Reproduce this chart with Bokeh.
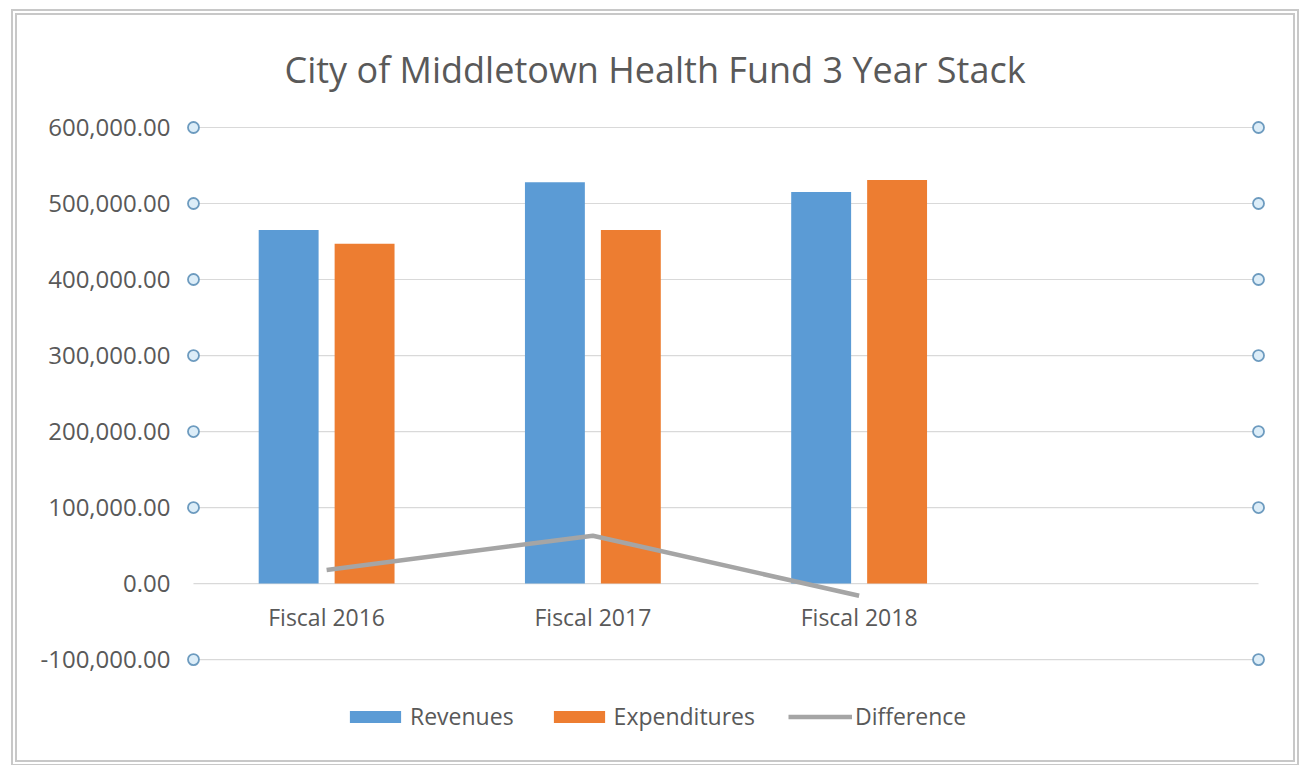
from bokeh.plotting import figure
from bokeh.models import FixedTicker, NumeralTickFormatter, Legend, LegendItem, Range1d
from bokeh.core.properties import value
from bokeh.embed import file_html
from bokeh.resources import INLINE

categories = ["Fiscal 2016", "Fiscal 2017", "Fiscal 2018"]
revenues = [465000, 528000, 515000]
expenditures = [447000, 465000, 531000]
difference = [18000, 63000, -16000]
y_ticks = [-100000, 0, 100000, 200000, 300000, 400000, 500000, 600000]
n_slots = 4  # the category axis has one empty slot on the right

FONT = "Open Sans"
GREY_TXT = "#595959"

p = figure(width=1276, height=745, output_backend="svg", toolbar_location=None,
           x_range=Range1d(-0.03, n_slots + 0.03),
           y_range=Range1d(-213000, 610500),
           x_axis_location=None,
           min_border_left=168, min_border_right=27, min_border_top=104, min_border_bottom=15,
           title="City of Middletown Health Fund 3 Year Stack")
p.styles = {"margin-left": "17px", "margin-top": "15px",
            "outline": "6px double #c8c8c8"}
p.outline_line_color = None
p.xgrid.visible = False
p.ygrid.visible = False

p.title.align = "left"
p.title.offset = 99
p.title.text_font = FONT
p.title.text_font_size = "36px"
p.title.text_font_style = "normal"
p.title.text_color = GREY_TXT
p.title.standoff = 51

ax = p.yaxis[0]
ax.ticker = FixedTicker(ticks=y_ticks)
ax.formatter = NumeralTickFormatter(format="0,0.00")
ax.axis_line_color = None
ax.major_tick_line_color = None
ax.minor_tick_line_color = None
ax.major_tick_out = 0
ax.major_tick_in = 0
ax.major_label_standoff = 15
ax.major_label_text_font = FONT
ax.major_label_text_font_size = "24px"
ax.major_label_text_color = GREY_TXT

# gridlines
p.segment(x0=[0] * len(y_ticks), x1=[n_slots] * len(y_ticks), y0=y_ticks, y1=y_ticks,
          line_color="#d9d9d9", line_width=1.2)

centers = [i + 0.5 for i in range(len(categories))]
off = 0.1426
bw = 0.225
r1 = p.vbar(x=[c - off for c in centers], top=revenues, bottom=0, width=bw,
            fill_color="#5b9bd5", line_color=None)
r2 = p.vbar(x=[c + off for c in centers], top=expenditures, bottom=0, width=bw,
            fill_color="#ed7d31", line_color=None)
r3 = p.line(x=centers, y=difference, line_color="#a5a5a5", line_width=4.5)

# selection handles at gridlines (excluding zero)
hy = [t for t in y_ticks if t != 0]
p.scatter(x=[0] * len(hy) + [n_slots] * len(hy), y=hy + hy, size=11,
          fill_color="#dcedf8", line_color="#6d9bbf", line_width=1.8)

# category labels just below zero line
p.text(x=centers, y=[0] * len(centers), text=categories, text_align="center",
       text_baseline="middle", y_offset=33, text_font=value(FONT),
       text_font_size=value("23px"), text_color=GREY_TXT)

legend = Legend(items=[LegendItem(label="Revenues", renderers=[r1]),
                       LegendItem(label="Expenditures", renderers=[r2]),
                       LegendItem(label="Difference", renderers=[r3])],
                orientation="horizontal", location=(158, 13))
legend.border_line_color = None
legend.background_fill_alpha = 0
legend.label_text_font = FONT
legend.label_text_font_size = "23px"
legend.label_text_color = GREY_TXT
legend.glyph_width = 64
legend.glyph_height = 15
legend.label_standoff = 3
legend.spacing = 33
legend.padding = 4
legend.margin = 0
p.add_layout(legend)

open("out.html", "w").write(file_html(p, INLINE))
